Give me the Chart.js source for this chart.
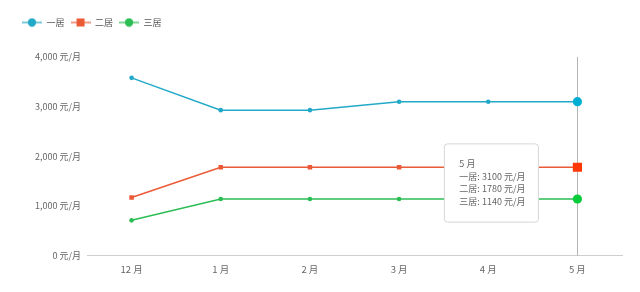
<!DOCTYPE html>
<html><head><meta charset="utf-8">
<script src="https://cdn.jsdelivr.net/npm/chart.js@4/dist/chart.umd.min.js"></script>
<style>html,body{margin:0;padding:0;background:#fff}#wrap{width:640px;height:292px}</style>
</head><body><div id="wrap"><canvas id="c" width="640" height="292"></canvas></div>
<script>
const categories = ['12 月', '1 月', '2 月', '3 月', '4 月', '5 月'];
const seriesNames = ['一居', '二居', '三居'];
const oneRoom = [3580, 2930, 2930, 3100, 3100, 3100];
const twoRoom = [1170, 1780, 1780, 1780, 1780, 1780];
const threeRoom = [710, 1140, 1140, 1140, 1140, 1140];
const yTicks = [0, 1000, 2000, 3000, 4000];
const unit = '元/月';
const activeIndex = 5;

const colors = ['#23a9c8', '#eb5a36', '#2bbd53'];
const styles = ['circle', 'rect', 'circle'];
const FONT = '"Noto Sans CJK SC", "Noto Sans", sans-serif';

function legendIcon(color, style) {
  const c = document.createElement('canvas');
  c.width = 20; c.height = 10;
  const x = c.getContext('2d');
  x.strokeStyle = color; x.lineWidth = 1.2;
  x.beginPath(); x.moveTo(0, 5); x.lineTo(20, 5); x.stroke();
  x.fillStyle = color;
  if (style === 'rect') { x.fillRect(6, 1, 8, 8); }
  else { x.beginPath(); x.arc(10, 5, 4.2, 0, Math.PI * 2); x.fill(); }
  return c;
}
const icons = colors.map((c, i) => legendIcon(c, styles[i]));

Chart.Tooltip.positioners.leftOfPoint = function (items) {
  if (!items.length) return false;
  return { x: items[0].element.x - 39, y: 183 };
};

const crosshair = {
  id: 'crosshair',
  beforeInit(chart) {
    const lg = chart.legend;
    if (lg) {
      const orig = lg.fit;
      lg.fit = function () { orig.call(this); this.height = 45; };
    }
  },
  beforeDatasetsDraw(chart) {
    const meta = chart.getDatasetMeta(0);
    const el = meta.data[activeIndex];
    if (!el) return;
    const { ctx, chartArea } = chart;
    ctx.save();
    ctx.strokeStyle = '#b4b4b4';
    ctx.lineWidth = 1;
    ctx.beginPath();
    ctx.moveTo(Math.round(el.x) + 0.5, chartArea.top);
    ctx.lineTo(Math.round(el.x) + 0.5, chartArea.bottom);
    ctx.stroke();
    ctx.restore();
  }
};

const values = [oneRoom, twoRoom, threeRoom];
const chart = new Chart(document.getElementById('c'), {
  type: 'line',
  data: {
    labels: categories,
    datasets: values.map((v, i) => ({
      label: seriesNames[i],
      data: v,
      borderColor: colors[i],
      backgroundColor: colors[i],
      pointBackgroundColor: colors[i],
      pointBorderColor: colors[i],
      pointStyle: styles[i],
      borderWidth: 1.5,
      pointRadius: styles[i] === 'rect' ? 3.2 : 2.3,
      pointBorderWidth: 0,
      pointHoverRadius: styles[i] === 'rect' ? 6.5 : 4.6,
      pointHoverBorderWidth: 0,
      tension: 0,
      fill: false
    }))
  },
  options: {
    responsive: false,
    animation: false,
    events: [],
    layout: { padding: { left: 16, right: 18, top: 12, bottom: 9 } },
    interaction: { mode: 'index', intersect: false },
    scales: {
      x: {
        offset: true,
        grid: { display: false, drawTicks: false },
        border: { display: true, color: '#cfcfcf', width: 1 },
        ticks: { color: '#666', font: { family: FONT, size: 9.5 }, padding: 8, maxRotation: 0 }
      },
      y: {
        min: 0, max: 4000,
        afterBuildTicks(scale) { scale.ticks = yTicks.map(v => ({ value: v })); },
        afterFit(scale) { scale.width = 71; },
        grid: { display: false, drawTicks: false },
        border: { display: false },
        ticks: {
          color: '#666', font: { family: FONT, size: 9 }, padding: 6,
          callback: v => v.toLocaleString('en-US') + ' ' + unit
        }
      }
    },
    plugins: {
      legend: {
        position: 'top', align: 'start',
        labels: {
          usePointStyle: true, pointStyleWidth: 20, boxHeight: 10,
          padding: 6, color: '#555', font: { family: FONT, size: 9 },
          generateLabels(chart) {
            const items = Chart.defaults.plugins.legend.labels.generateLabels(chart);
            items.forEach((it, i) => { it.pointStyle = icons[i]; });
            return items;
          }
        }
      },
      tooltip: {
        enabled: true,
        position: 'leftOfPoint',
        xAlign: 'right', yAlign: 'center',
        caretSize: 0, caretPadding: 0,
        backgroundColor: '#ffffff',
        borderColor: '#d6d6d6', borderWidth: 1, cornerRadius: 3,
        titleColor: '#666', bodyColor: '#666',
        titleFont: { family: FONT, size: 9, weight: 'normal' },
        bodyFont: { family: FONT, size: 9 },
        titleMarginBottom: 2, bodySpacing: 2,
        padding: { left: 15, right: 13, top: 14, bottom: 15 },
        displayColors: false,
        callbacks: {
          title: items => items[0].label,
          label: ctx => ctx.dataset.label + ': ' + ctx.parsed.y + ' ' + unit
        }
      }
    }
  },
  plugins: [crosshair]
});

const act = values.map((v, i) => ({ datasetIndex: i, index: activeIndex }));
chart.setActiveElements(act);
chart.tooltip.setActiveElements(act, { x: 0, y: 0 });
chart.update('none');
</script></body></html>
